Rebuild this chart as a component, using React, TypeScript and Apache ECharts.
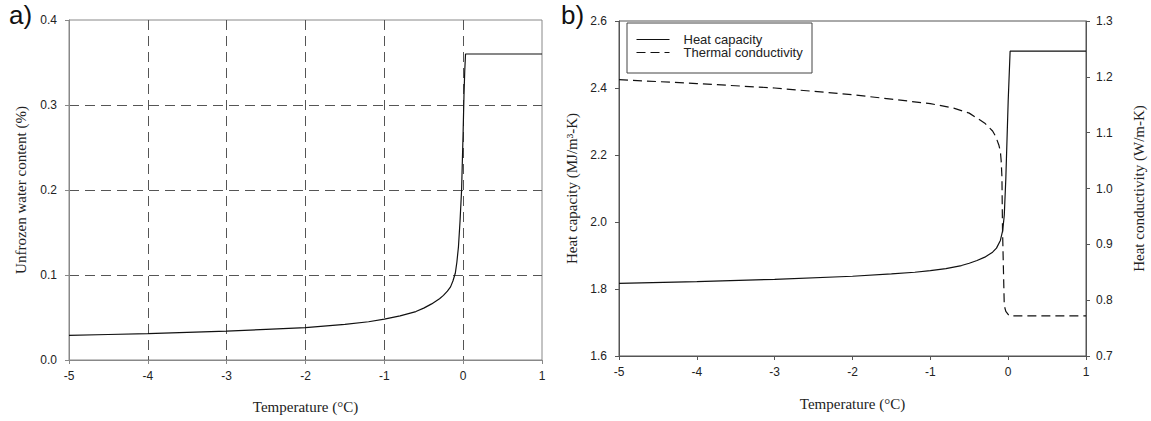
import React, { useEffect, useRef } from "react";
import * as echarts from "echarts";

// Panel a) unfrozen water content
const tempA = [-5, -4.5, -4, -3.5, -3, -2.5, -2, -1.5, -1.2, -1, -0.8, -0.6, -0.5, -0.4, -0.3, -0.25, -0.2, -0.16, -0.13, -0.1, -0.08, -0.06, -0.04, -0.02, 0, 0.01, 0.02, 0.03, 1];
const waterA = [0.029, 0.030, 0.031, 0.0325, 0.034, 0.036, 0.038, 0.042, 0.045, 0.048, 0.052, 0.057, 0.061, 0.066, 0.072, 0.076, 0.081, 0.086, 0.093, 0.102, 0.115, 0.133, 0.163, 0.2, 0.27, 0.31, 0.34, 0.36, 0.36];

// Panel b) heat capacity (MJ/m3-K)
const tempHC = [-5, -4, -3, -2, -1.5, -1.2, -1, -0.8, -0.6, -0.5, -0.4, -0.3, -0.2, -0.15, -0.1, -0.07, -0.05, -0.03, 0, 0.025, 1];
const heatCap = [1.817, 1.822, 1.829, 1.838, 1.845, 1.85, 1.855, 1.861, 1.87, 1.877, 1.885, 1.895, 1.91, 1.922, 1.945, 1.975, 2.02, 2.13, 2.36, 2.51, 2.51];

// Panel b) thermal conductivity (W/m-K)
const tempTC = [-5, -4, -3, -2, -1.5, -1, -0.7, -0.5, -0.3, -0.2, -0.16, -0.12, -0.1, -0.09, -0.08, -0.073, -0.06, -0.05, -0.03, 0.013, 1];
const thermCond = [1.195, 1.188, 1.18, 1.168, 1.16, 1.152, 1.144, 1.135, 1.117, 1.103, 1.093, 1.078, 1.066, 1.05, 1.02, 0.93, 0.85, 0.79, 0.78, 0.772, 0.772];

const xTicksMin = -5;
const xTicksMax = 1;

const pairs = (xs: number[], ys: number[]) => xs.map((x, i) => [x, ys[i]]);

const sans = "Liberation Sans, Arial, sans-serif";
const serif = "Liberation Serif, Times New Roman, serif";

export default function App() {
  const ref = useRef<HTMLDivElement>(null);
  useEffect(() => {
    if (!ref.current) return;
    const chart = echarts.init(ref.current, undefined, { renderer: "svg" });
    const axisLabel = { fontFamily: sans, fontSize: 12, color: "#222" };
    const nameStyle = { fontFamily: serif, fontSize: 15, color: "#222" };
    const gridDash = { color: "#555", width: 1, type: [10, 6] as any };
    const frameA = "#888";
    const frameB = "#555";
    chart.setOption({
      animation: false,
      backgroundColor: "#fff",
      grid: [
        { left: 69, right: 609, top: 20, bottom: 61, show: true, borderColor: frameA, borderWidth: 1, containLabel: false },
        { left: 619, right: 65, top: 21, bottom: 65, show: true, borderColor: frameB, borderWidth: 1, containLabel: false },
      ],
      xAxis: [
        {
          type: "value", gridIndex: 0, min: xTicksMin, max: xTicksMax, interval: 1,
          axisLine: { show: true, onZero: false, lineStyle: { color: frameA } },
          axisTick: { show: true, inside: false, length: 4, lineStyle: { color: frameA } },
          axisLabel: { ...axisLabel, margin: 10 },
          splitLine: { show: true, showMinLine: false, showMaxLine: false, lineStyle: gridDash },
          name: "Temperature (°C)", nameLocation: "middle", nameGap: 39, nameTextStyle: nameStyle,
        },
        {
          type: "value", gridIndex: 1, min: xTicksMin, max: xTicksMax, interval: 1,
          axisLine: { show: true, onZero: false, lineStyle: { color: frameB } },
          axisTick: { show: true, inside: false, length: 4, lineStyle: { color: frameB } },
          axisLabel: { ...axisLabel, margin: 10 },
          splitLine: { show: false },
          name: "Temperature (°C)", nameLocation: "middle", nameGap: 40, nameTextStyle: nameStyle,
        },
      ],
      yAxis: [
        {
          type: "value", gridIndex: 0, min: 0, max: 0.4, interval: 0.1,
          axisLine: { show: true, onZero: false, lineStyle: { color: frameA } },
          axisTick: { show: true, inside: false, length: 4, lineStyle: { color: frameA } },
          axisLabel: { ...axisLabel, margin: 12, formatter: (v: number) => v.toFixed(1) },
          splitLine: { show: true, showMinLine: false, showMaxLine: false, lineStyle: gridDash },
          name: "Unfrozen water content (%)", nameLocation: "middle", nameGap: 41, nameRotate: 90, nameTextStyle: nameStyle,
        },
        {
          type: "value", gridIndex: 1, min: 1.6, max: 2.6, interval: 0.2,
          axisLine: { show: true, onZero: false, lineStyle: { color: frameB } },
          axisTick: { show: true, inside: false, length: 4, lineStyle: { color: frameB } },
          axisLabel: { ...axisLabel, margin: 12, formatter: (v: number) => v.toFixed(1) },
          splitLine: { show: false },
          name: "Heat capacity (MJ/m³-K)", nameLocation: "middle", nameGap: 40, nameRotate: 90, nameTextStyle: nameStyle,
        },
        {
          type: "value", gridIndex: 1, position: "right", min: 0.7, max: 1.3, interval: 0.1,
          axisLine: { show: true, onZero: false, lineStyle: { color: frameB } },
          axisTick: { show: true, inside: false, length: 4, lineStyle: { color: frameB } },
          axisLabel: { ...axisLabel, margin: 10, formatter: (v: number) => v.toFixed(1) },
          splitLine: { show: false },
          name: "Heat conductivity (W/m-K)", nameLocation: "middle", nameGap: 45, nameRotate: 90, nameTextStyle: nameStyle,
        },
      ],
      legend: {
        orient: "vertical", left: 636, top: 33, padding: 0, itemGap: 0,
        itemWidth: 33, itemHeight: 14,
        itemStyle: { color: "transparent", borderWidth: 0, opacity: 0 },
        lineStyle: { width: 1 },
        textStyle: { fontFamily: sans, fontSize: 13, color: "#222", padding: [0, 0, 0, 9] },
        data: ["Heat capacity", "Thermal conductivity"],
      },
      graphic: [
        { type: "rect", shape: { x: 627, y: 23, width: 185, height: 50 }, style: { fill: "none", stroke: "#444", lineWidth: 1 }, silent: true },
        { type: "text", left: 9, top: 2, style: { text: "a)", fontFamily: sans, fontSize: 26, fill: "#111" } },
        { type: "text", left: 561, top: 2, style: { text: "b)", fontFamily: sans, fontSize: 26, fill: "#111" } },
      ],
      series: [
        {
          type: "line", xAxisIndex: 0, yAxisIndex: 0, data: pairs(tempA, waterA),
          showSymbol: false, symbol: "none", lineStyle: { color: "#111", width: 1.2 },
        },
        {
          name: "Heat capacity", type: "line", xAxisIndex: 1, yAxisIndex: 1, data: pairs(tempHC, heatCap),
          showSymbol: false, symbol: "none", itemStyle: { color: "#111" }, lineStyle: { color: "#111", width: 1.2 },
        },
        {
          name: "Thermal conductivity", type: "line", xAxisIndex: 1, yAxisIndex: 2, data: pairs(tempTC, thermCond),
          showSymbol: false, symbol: "none", itemStyle: { color: "#111" }, lineStyle: { color: "#111", width: 1.2, type: [9, 5] as any },
        },
      ],
    });
    return () => chart.dispose();
  }, []);
  return <div ref={ref} style={{ position: "fixed", left: 0, top: 0, width: 1151, height: 421 }} />;
}
